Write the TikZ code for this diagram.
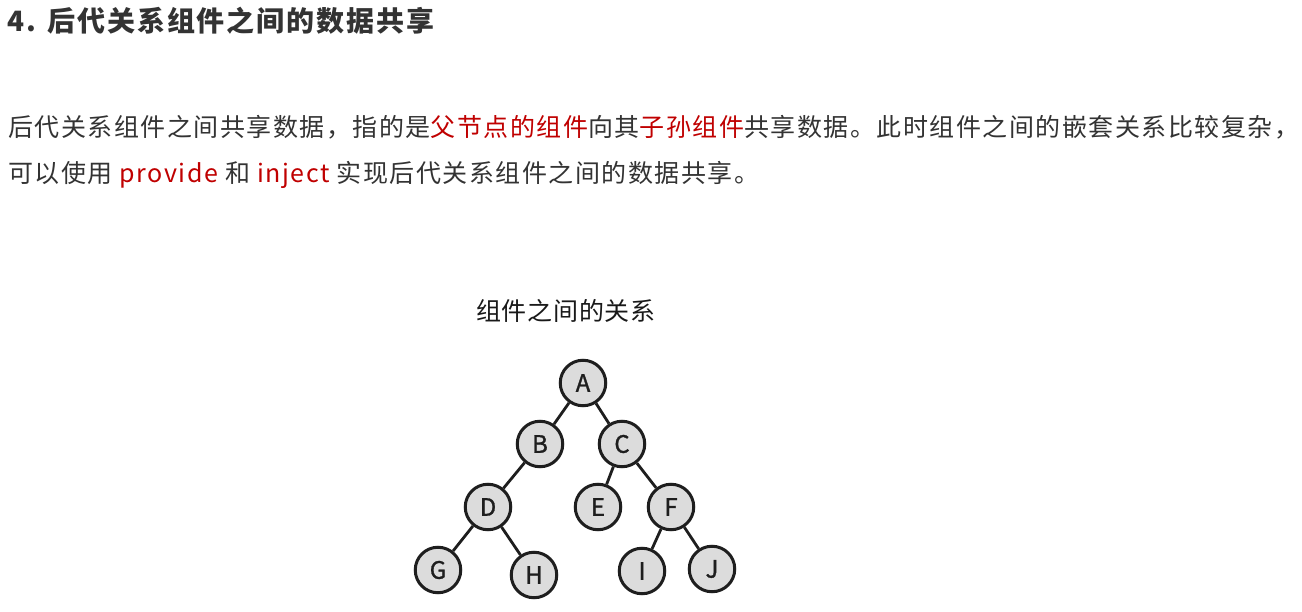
\documentclass[tikz,border=0pt]{standalone}
\usepackage{fontspec}
\setmainfont{Noto Sans CJK SC}
\newfontfamily\bodyfont[LetterSpace=6]{Noto Sans CJK SC}
\newfontfamily\headfont[LetterSpace=7]{Noto Sans CJK SC}
\newfontfamily\titlefont[LetterSpace=3]{Noto Sans CJK SC}
\newfontfamily\nodefont[FakeBold=1.2]{Noto Sans CJK SC}
\definecolor{txt}{HTML}{333333}
\definecolor{hl}{HTML}{C00000}
\definecolor{nodefill}{HTML}{DCDCDC}
\definecolor{nodeline}{HTML}{1E1E1E}
\begin{document}
\begin{tikzpicture}[x=1pt,y=-1pt,
  tn/.style={circle, draw=nodeline, fill=nodefill, line width=3pt, minimum size=45.5pt, inner sep=0pt,
    font=\nodefont\fontsize{24pt}{24pt}\selectfont, text=nodeline},
  edge/.style={draw=nodeline, line width=2.8pt},
  txtline/.style={anchor=base west, inner sep=0pt, text=txt}]
\path[use as bounding box, fill=white] (0,0) rectangle (1302,612);

\node[txtline, font={\headfont\bfseries\fontsize{28pt}{32pt}\selectfont}] (head) at (7,32) {4. 后代关系组件之间的数据共享};

\node[txtline, font={\bodyfont\fontsize{25pt}{30pt}\selectfont}] (l1) at (8,137)
  {后代关系组件之间共享数据，指的是\textcolor{hl}{父节点的组件}向其\textcolor{hl}{子孙组件}共享数据。此时组件之间的嵌套关系比较复杂，};
\node[txtline, font={\bodyfont\fontsize{25pt}{30pt}\selectfont}] (l2) at (8,183)
  {可以使用 \textcolor{hl}{provide} 和 \textcolor{hl}{inject} 实现后代关系组件之间的数据共享。};

\node[txtline, text=black!90, font={\titlefont\fontsize{25pt}{30pt}\selectfont}] (title) at (476,321) {组件之间的关系};

\node[tn] (A) at (583,383) {A};
\node[tn] (B) at (540,444) {B};
\node[tn] (C) at (622,444) {C};
\node[tn] (D) at (488,507) {D};
\node[tn] (E) at (598,507) {E};
\node[tn] (F) at (671,507) {F};
\node[tn] (G) at (438,570) {G};
\node[tn] (H) at (534,575) {H};
\node[tn] (I) at (642,571) {I};
\node[tn] (J) at (712,569) {J};

\draw[edge] (A) -- (B);
\draw[edge] (A) -- (C);
\draw[edge] (B) -- (D);
\draw[edge] (C) -- (E);
\draw[edge] (C) -- (F);
\draw[edge] (D) -- (G);
\draw[edge] (D) -- (H);
\draw[edge] (F) -- (I);
\draw[edge] (F) -- (J);
\end{tikzpicture}
\end{document}
